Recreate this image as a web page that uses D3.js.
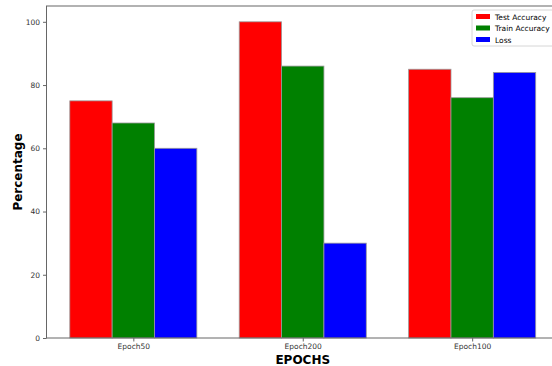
<!DOCTYPE html>
<html><head><meta charset="utf-8">
<script src="https://cdn.jsdelivr.net/npm/d3@7"></script>
<style>body{margin:0;background:#fff}svg{display:block}</style>
</head><body>
<script>
const categories = ["Epoch50", "Epoch200", "Epoch100"];
const seriesNames = ["Test Accuracy", "Train Accuracy", "Loss"];
const testAccuracy = [75, 100, 85];
const trainAccuracy = [68, 86, 76];
const loss = [60, 30, 84];
const yTicks = [0, 20, 40, 60, 80, 100];
const colors = ["#ff0000", "#008000", "#0000ff"];
const series = [testAccuracy, trainAccuracy, loss];
const offsets = [-0.25, 0, 0.25];
const barW = 0.25;

const W = 552, H = 366;
const svg = d3.select("body").append("svg").attr("width", W).attr("height", H);
const x = d3.scaleLinear().domain([-0.5125, 2.5125]).range([46.5, 559]);
const y = d3.scaleLinear().domain([0, 105]).range([338, 6]);
const font = "DejaVu Sans, sans-serif";

// bars
series.forEach((vals, s) => {
  svg.append("g").selectAll("rect").data(vals).join("rect")
    .attr("x", (d, i) => x(i + offsets[s] - barW / 2))
    .attr("width", x(barW) - x(0))
    .attr("y", d => y(d))
    .attr("height", d => y(0) - y(d))
    .attr("fill", colors[s])
    .attr("stroke", "#9a9a9a").attr("stroke-width", 0.8);
});

// frame
svg.append("rect").attr("x", 46.5).attr("y", 6).attr("width", 559 - 46.5).attr("height", 332)
  .attr("fill", "none").attr("stroke", "#666").attr("stroke-width", 1);

// y axis
const ya = svg.append("g").attr("transform", "translate(46.5,0)")
  .call(d3.axisLeft(y).tickValues(yTicks).tickSize(3.5).tickPadding(3));
ya.select(".domain").remove();
ya.selectAll("line").attr("stroke", "#666");
ya.selectAll("text").attr("font-family", font).attr("font-size", 7.5).attr("fill", "#333");

// x axis
const xa = svg.append("g").attr("transform", "translate(0,338)")
  .call(d3.axisBottom(x).tickValues([0, 1, 2]).tickFormat(i => categories[i]).tickSize(3.5).tickPadding(2));
xa.select(".domain").remove();
xa.selectAll("line").attr("stroke", "#666");
xa.selectAll("text").attr("font-family", font).attr("font-size", 7.5).attr("fill", "#333");

// axis titles
svg.append("text").attr("x", x(1)).attr("y", 364).attr("text-anchor", "middle")
  .attr("font-family", font).attr("font-weight", "bold").attr("font-size", 12).text("EPOCHS");
svg.append("text").attr("transform", "translate(22,172) rotate(-90)").attr("text-anchor", "middle")
  .attr("font-family", font).attr("font-weight", "bold").attr("font-size", 12).text("Percentage");

// legend
const lg = svg.append("g").attr("transform", "translate(472,10)");
lg.append("rect").attr("x", 0).attr("y", 0).attr("width", 90).attr("height", 36).attr("rx", 2)
  .attr("fill", "#fff").attr("stroke", "#ccc").attr("stroke-width", 0.8);
seriesNames.forEach((n, i) => {
  lg.append("rect").attr("x", 4).attr("y", 4 + i * 11.5).attr("width", 14).attr("height", 5)
    .attr("fill", colors[i]);
  lg.append("text").attr("x", 23).attr("y", 9.5 + i * 11.5)
    .attr("font-family", font).attr("font-size", 7.5).attr("fill", "#000").text(n);
});
</script>
</body></html>
